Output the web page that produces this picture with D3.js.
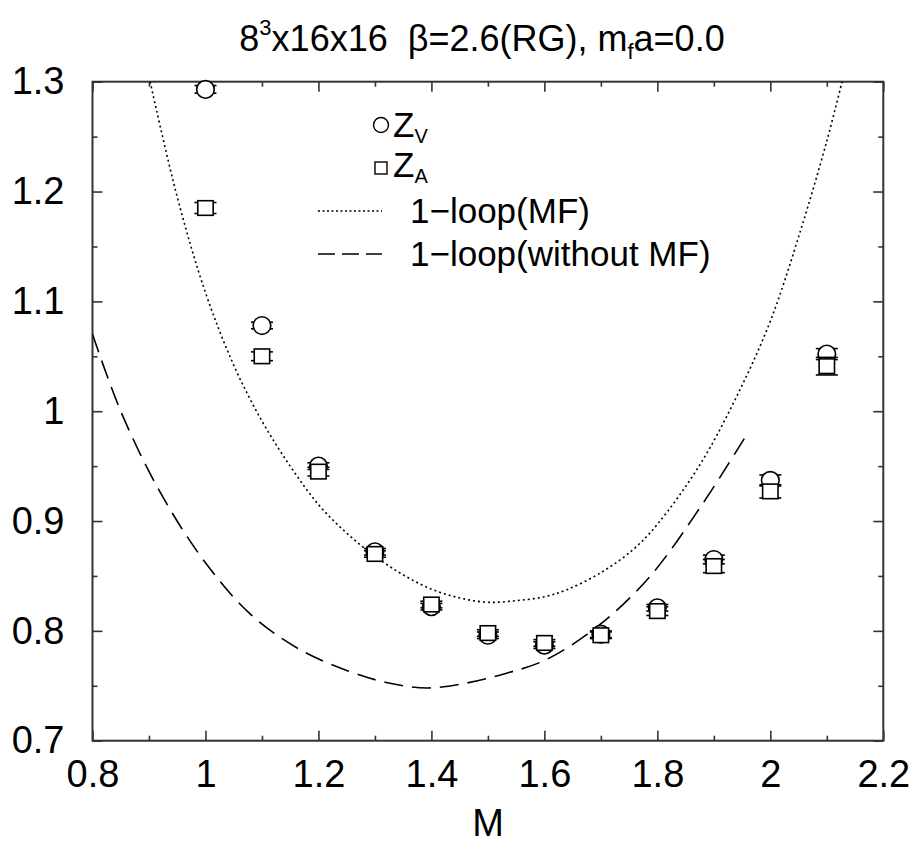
<!DOCTYPE html>
<html><head><meta charset="utf-8">
<script src="https://cdn.jsdelivr.net/npm/d3@7"></script>
<style>
body{margin:0;background:#fff;}
svg{display:block;font-family:"Liberation Sans",Arial,Helvetica,sans-serif;}
</style></head>
<body><svg id="chart" width="914" height="846"></svg>
<script>
// ---- data ----
const massM   = [1.0, 1.1, 1.2, 1.3, 1.4, 1.5, 1.6, 1.7, 1.8, 1.9, 2.0, 2.1];
const zV      = [1.293, 1.078, 0.950, 0.872, 0.822, 0.796, 0.787, 0.797, 0.821, 0.865, 0.937, 1.052];
const zVerr   = [0.0035, 0.003, 0.003, 0.003, 0.003, 0.003, 0.003, 0.003, 0.003, 0.004, 0.005, 0.005];
const zA      = [1.185, 1.050, 0.945, 0.870, 0.824, 0.798, 0.789, 0.796, 0.818, 0.859, 0.927, 1.041];
const zAerr   = [0.005, 0.004, 0.004, 0.003, 0.003, 0.003, 0.003, 0.003, 0.004, 0.006, 0.006, 0.008];
const loopMF  = [[0.902,1.300],[0.95,1.195],[1.0,1.108],[1.05,1.042],[1.1,0.991],[1.15,0.950],
                 [1.2,0.915],[1.25,0.889],[1.3,0.868],[1.35,0.851],[1.4,0.838],[1.45,0.830],[1.5,0.826],
                 [1.55,0.8275],[1.6,0.831],[1.64,0.8375],[1.7,0.853],[1.757,0.874],[1.8,0.897],
                 [1.875,0.951],[1.94,1.013],[2.0,1.082],[2.052,1.162],[2.1,1.246],[2.127,1.300]];
const loopNoMF= [[0.8,1.070],[0.85,1.000],[0.92,0.926],[1.0,0.862],[1.08,0.815],[1.167,0.783],
                 [1.25,0.764],[1.32,0.753],[1.392,0.748],[1.462,0.7525],[1.53,0.761],[1.604,0.774],
                 [1.698,0.8056],[1.787,0.8496],[1.881,0.9164],[1.955,0.976]];
const xTicks  = [0.8, 1, 1.2, 1.4, 1.6, 1.8, 2, 2.2];
const yTicks  = [0.7, 0.8, 0.9, 1, 1.1, 1.2, 1.3];

const svg = d3.select("#chart");
const L = 92.5, R = 883.3, T = 81.7, B = 740.7;
const x = d3.scaleLinear().domain([0.8, 2.2]).range([L, R]);
const y = d3.scaleLinear().domain([0.7, 1.3]).range([B, T]);

const xMinor = d3.range(0.9, 2.2, 0.2).map(v => +v.toFixed(2));
const yMinor = d3.range(0.75, 1.3, 0.1).map(v => +v.toFixed(2));
const fmt = d => String(+d.toFixed(2));
const axCol = "#333";

function styleAxis(g){
  g.select(".domain").remove();
  g.selectAll("line").attr("stroke", axCol).attr("stroke-width", 1.6);
  g.selectAll("text").attr("font-size", 38).attr("fill", "#000")
    .attr("font-family", "'Liberation Sans',Arial,sans-serif");
}
// bottom
svg.append("g").attr("transform", `translate(0,${B})`)
  .call(d3.axisBottom(x).tickValues(xTicks).tickSize(-10).tickPadding(19).tickFormat(fmt)).call(styleAxis);
svg.append("g").attr("transform", `translate(0,${B})`)
  .call(d3.axisBottom(x).tickValues(xMinor).tickSize(-5).tickFormat("")).call(styleAxis);
// top
svg.append("g").attr("transform", `translate(0,${T})`)
  .call(d3.axisTop(x).tickValues(xTicks).tickSize(-10).tickFormat("")).call(styleAxis);
svg.append("g").attr("transform", `translate(0,${T})`)
  .call(d3.axisTop(x).tickValues(xMinor).tickSize(-5).tickFormat("")).call(styleAxis);
// left
svg.append("g").attr("transform", `translate(${L},0)`)
  .call(d3.axisLeft(y).tickValues(yTicks).tickSize(-10).tickPadding(28).tickFormat(fmt)).call(styleAxis);
svg.append("g").attr("transform", `translate(${L},0)`)
  .call(d3.axisLeft(y).tickValues(yMinor).tickSize(-5).tickFormat("")).call(styleAxis);
// right
svg.append("g").attr("transform", `translate(${R},0)`)
  .call(d3.axisRight(y).tickValues(yTicks).tickSize(-10).tickFormat("")).call(styleAxis);
svg.append("g").attr("transform", `translate(${R},0)`)
  .call(d3.axisRight(y).tickValues(yMinor).tickSize(-5).tickFormat("")).call(styleAxis);

// frame
svg.append("rect").attr("x", L).attr("y", T).attr("width", R - L).attr("height", B - T)
  .attr("fill", "none").attr("stroke", axCol).attr("stroke-width", 2);

// curves
const line = d3.line().x(d => x(d[0])).y(d => y(d[1])).curve(d3.curveCatmullRom.alpha(0.5));
svg.append("clipPath").attr("id", "clip").append("rect")
  .attr("x", L).attr("y", T).attr("width", R - L).attr("height", B - T);
svg.append("path").datum(loopMF).attr("d", line).attr("fill", "none")
  .attr("stroke", "#000").attr("stroke-width", 1.6).attr("stroke-dasharray", "2,3")
  .attr("clip-path", "url(#clip)");
svg.append("path").datum(loopNoMF).attr("d", line).attr("fill", "none")
  .attr("stroke", "#000").attr("stroke-width", 1.6).attr("stroke-dasharray", "19,9")
  .attr("clip-path", "url(#clip)");

// points
const ptsV = massM.map((m, i) => ({m, v: zV[i], e: zVerr[i]}));
const ptsA = massM.map((m, i) => ({m, v: zA[i], e: zAerr[i]}));
const capW = 11;
function errBars(data){
  const g = svg.append("g").attr("stroke", "#000").attr("stroke-width", 1.6);
  data.forEach(d => {
    const cx = x(d.m);
    [d.v - d.e, d.v + d.e].forEach(v => {
      g.append("line").attr("x1", cx - capW).attr("x2", cx + capW)
        .attr("y1", y(v)).attr("y2", y(v));
    });
    g.append("line").attr("x1", cx).attr("x2", cx).attr("y1", y(d.v - d.e)).attr("y2", y(d.v + d.e));
  });
}
errBars(ptsV);
svg.append("g").selectAll("circle").data(ptsV).join("circle")
  .attr("cx", d => x(d.m)).attr("cy", d => y(d.v)).attr("r", 8.8)
  .attr("fill", "#fff").attr("stroke", "#000").attr("stroke-width", 1.6);
errBars(ptsA);
svg.append("g").selectAll("rect").data(ptsA).join("rect")
  .attr("x", d => x(d.m) - 7.7).attr("y", d => y(d.v) - 7.3).attr("width", 15.4).attr("height", 14.6)
  .attr("fill", "#fff").attr("stroke", "#000").attr("stroke-width", 1.6);

// legend
const lg = svg.append("g");
lg.append("circle").attr("cx", 381).attr("cy", 125).attr("r", 7.5)
  .attr("fill", "#fff").attr("stroke", "#000").attr("stroke-width", 1.4);
const t1 = lg.append("text").attr("x", 393).attr("y", 137).attr("font-size", 35);
t1.append("tspan").text("Z");
t1.append("tspan").attr("font-size", 20).attr("dy", 6).text("V");
lg.append("rect").attr("x", 375).attr("y", 162).attr("width", 12).attr("height", 12)
  .attr("fill", "#fff").attr("stroke", "#000").attr("stroke-width", 1.4);
const t2 = lg.append("text").attr("x", 393).attr("y", 177).attr("font-size", 35);
t2.append("tspan").text("Z");
t2.append("tspan").attr("font-size", 20).attr("dy", 6).text("A");
lg.append("line").attr("x1", 318).attr("x2", 382).attr("y1", 211).attr("y2", 211)
  .attr("stroke", "#000").attr("stroke-width", 1.3).attr("stroke-dasharray", "2,2.5");
lg.append("text").attr("x", 410).attr("y", 223).attr("font-size", 35).text("1\u2212loop(MF)");
lg.append("line").attr("x1", 318).attr("x2", 382).attr("y1", 254).attr("y2", 254)
  .attr("stroke", "#000").attr("stroke-width", 1.3).attr("stroke-dasharray", "17,7");
lg.append("text").attr("x", 410).attr("y", 266).attr("font-size", 35).text("1\u2212loop(without MF)");

// title
const tt = svg.append("text").attr("x", 482).attr("y", 51).attr("text-anchor", "middle")
  .attr("font-size", 36);
tt.append("tspan").text("8");
tt.append("tspan").attr("font-size", 22).attr("dy", -16).text("3");
tt.append("tspan").attr("dy", 16).text("x16x16\u00a0\u00a0\u03b2=2.6(RG), m");
tt.append("tspan").attr("font-size", 22).attr("dy", 8).text("f");
tt.append("tspan").attr("dy", -8).text("a=0.0");

// axis label
svg.append("text").attr("x", 488).attr("y", 836).attr("text-anchor", "middle")
  .attr("font-size", 38).text("M");
</script></body></html>
